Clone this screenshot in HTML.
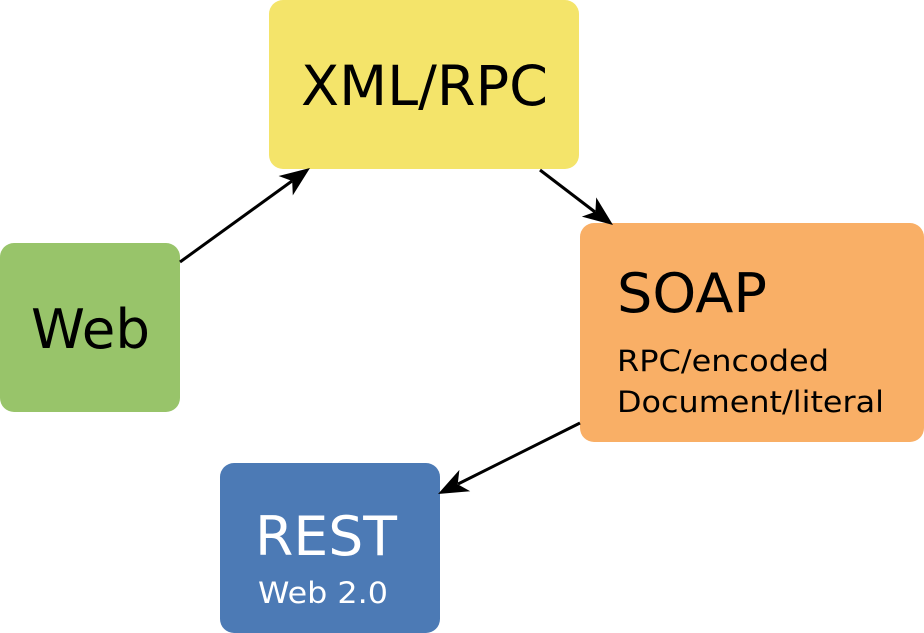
<!DOCTYPE html>
<html><head><meta charset="utf-8"><style>html,body{margin:0;padding:0;background:#fff}svg{display:block}</style></head>
<body>
<svg width="924" height="633" viewBox="0 0 924 633" xmlns="http://www.w3.org/2000/svg" font-family="DejaVu Sans, Liberation Sans, sans-serif">
<rect x="269" y="0" width="310" height="169" rx="14" fill="#F4E46A"/>
<rect x="0" y="243" width="180" height="169" rx="14" fill="#98C46A"/>
<rect x="580" y="223" width="344" height="219" rx="14" fill="#F9AF66"/>
<rect x="220" y="463" width="220" height="170" rx="14" fill="#4C7AB5"/>
<text x="301" y="105" font-size="55" textLength="247" lengthAdjust="spacingAndGlyphs">XML/RPC</text>
<text x="31" y="348" font-size="54" textLength="119" lengthAdjust="spacingAndGlyphs">Web</text>
<text x="617" y="312" font-size="54" textLength="150" lengthAdjust="spacingAndGlyphs">SOAP</text>
<text x="617" y="371" font-size="29" textLength="212" lengthAdjust="spacingAndGlyphs">RPC/encoded</text>
<text x="617" y="412" font-size="29" textLength="267" lengthAdjust="spacingAndGlyphs">Document/literal</text>
<text x="255" y="555" font-size="54" fill="#fff" textLength="142" lengthAdjust="spacingAndGlyphs">REST</text>
<text x="258" y="603" font-size="29" fill="#fff" textLength="130" lengthAdjust="spacingAndGlyphs">Web 2.0</text>
<g stroke="#000" stroke-width="3" fill="none">
<line x1="180" y1="262" x2="292" y2="181"/>
<line x1="540" y1="170" x2="595" y2="212"/>
<line x1="580" y1="423" x2="458" y2="484"/>
</g>
<g fill="#000">
<polygon points="310,168 292.8,195.4 292.2,181 278.6,176"/>
<polygon points="613,225 581.8,216.6 595.4,211.8 596.2,197.4"/>
<polygon points="438,494 470.2,491.3 457.7,484.2 459.4,469.9"/>
</g>
</svg>
</body></html>
